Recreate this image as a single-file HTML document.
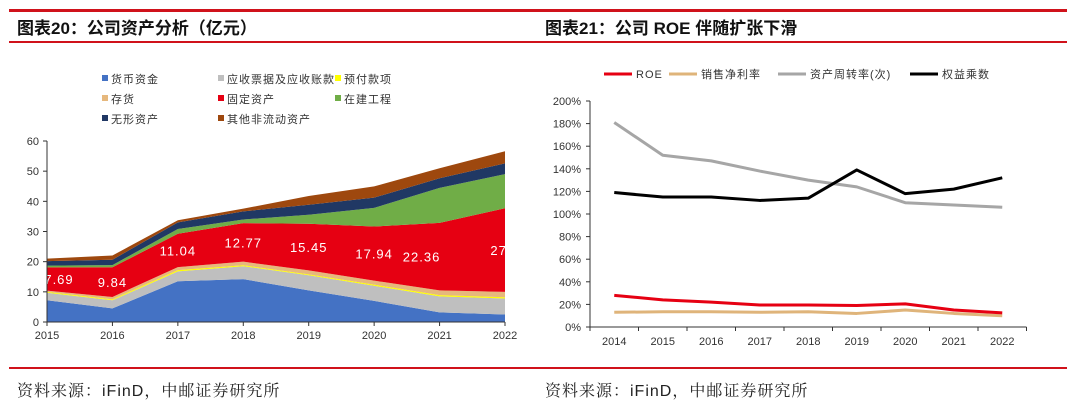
<!DOCTYPE html>
<html><head><meta charset="utf-8">
<style>
body{margin:0;width:1080px;height:419px;background:#fff;overflow:hidden;position:relative;font-family:"Liberation Sans","Noto Sans CJK SC",sans-serif;}
.rl{position:absolute;left:9px;width:1058px;background:#d0121b;}
.title{position:absolute;top:14px;font-size:17px;font-weight:bold;color:#111;font-family:"Liberation Sans","Noto Sans CJK SC",sans-serif;}
.src{position:absolute;top:378px;font-size:16px;color:#222;letter-spacing:1px;font-family:"Liberation Sans","Noto Serif CJK SC","Noto Sans CJK SC",sans-serif;}
svg{position:absolute;left:0;top:0;}
svg text{font-family:"Liberation Sans","Noto Sans CJK SC",sans-serif;}
</style></head><body>
<div class="rl" style="top:9px;height:3px"></div>
<div class="rl" style="top:41px;height:2px"></div>
<div class="rl" style="top:367px;height:2px"></div>
<div class="title" style="left:17px">图表20：公司资产分析（亿元）</div>
<div class="title" style="left:545px">图表21：公司 ROE 伴随扩张下滑</div>
<div class="src" style="left:17px">资料来源：iFinD，中邮证券研究所</div>
<div class="src" style="left:545px">资料来源：iFinD，中邮证券研究所</div>
<svg id="chart" width="1080" height="419"></svg>
<script>
// ---- Left chart data (亿元) ----
const years = ["2015","2016","2017","2018","2019","2020","2021","2022"];
const seriesNames = ["货币资金","应收票据及应收账款","预付款项","存货","固定资产","在建工程","无形资产","其他非流动资产"];
const cash = [7.2,4.5,13.5,14.2,10.5,7.0,3.2,2.5];
const receivables = [2.5,2.7,3.3,4.3,5.0,5.0,5.3,5.3];
const prepaid = [0.3,0.3,0.4,0.3,0.3,0.4,0.4,0.4];
const inventory = [0.4,0.8,1.0,1.2,1.3,1.3,1.6,1.8];
const fixedAssets = [7.69,9.84,11.04,12.77,15.45,17.94,22.36,27.7];
const construction = [0.6,0.7,1.6,1.2,3.0,6.2,11.6,11.3];
const intangible = [1.5,1.8,2.2,2.7,3.3,3.4,3.2,3.6];
const otherNonCurrent = [0.8,1.4,0.7,0.9,2.9,3.7,3.3,4.0];
const fixedLabels = ["7.69","9.84","11.04","12.77","15.45","17.94","22.36","27.7"];
const leftYTicks = [0,10,20,30,40,50,60];
// ---- Right chart data (%) ----
const years2 = ["2014","2015","2016","2017","2018","2019","2020","2021","2022"];
const roe = [28,24,22,19.5,19.5,19,20.5,15,12.5];
const netMargin = [13,13.5,13.5,13,13.5,12,15,12,10];
const assetTurnover = [181,152,147,138,130,124,110,108,106];
const equityMultiplier = [119,115,115,112,114,139,118,122,132];
const rightYTicks = [0,20,40,60,80,100,120,140,160,180,200];

const NS="http://www.w3.org/2000/svg";
const svg=document.getElementById('chart');
function mk(tag,attrs,parent){const e=document.createElementNS(NS,tag);for(const k in attrs)e.setAttribute(k,attrs[k]);(parent||svg).appendChild(e);return e;}

// ===== Left chart =====
const L={x0:47,x1:505,y0:322,y1:141,max:60};
const lx=i=>L.x0+i*(L.x1-L.x0)/(years.length-1);
const ly=v=>L.y0-v*(L.y0-L.y1)/L.max;
const stacks=[cash,receivables,prepaid,inventory,fixedAssets,construction,intangible,otherNonCurrent];
const colors=["#4472c4","#bfbfbf","#ffff00","#e6b87d","#e60012","#70ad47","#203864","#9e480e"];
const areaNames=["area-cash","area-receivables","area-prepaid","area-inventory","area-fixed-assets","area-construction","area-intangible","area-other-noncurrent"];
let base=years.map(()=>0);
const cum=[];
stacks.forEach((s,k)=>{
  const top=base.map((b,i)=>b+s[i]);
  let d="M"+years.map((_,i)=>lx(i)+","+ly(top[i])).join(" L");
  for(let i=years.length-1;i>=0;i--) d+=" L"+lx(i)+","+ly(base[i]);
  d+="Z";
  const p=mk('path',{d:d,fill:colors[k]});
  
  
  cum.push({lo:base.slice(),hi:top});
  base=top;
});
const defs=mk('defs',{});
const cp=mk('clipPath',{id:'lclip'},defs);
mk('rect',{x:L.x0,y:L.y1,width:L.x1-L.x0,height:L.y0-L.y1},cp);
const lg=mk('g',{'clip-path':'url(#lclip)'});
fixedLabels.forEach((t,i)=>{
  const mid=(cum[4].lo[i]+cum[4].hi[i])/2;
  const dx = i===0 ? 12 : (i===6 ? -18 : 0);
  const e=mk('text',{x:lx(i)+dx,y:ly(mid)+5,'text-anchor':'middle','font-size':13,fill:'#fff','letter-spacing':1},lg);
  e.textContent=t;
  
  
});
mk('line',{x1:L.x0,y1:L.y1,x2:L.x0,y2:L.y0,stroke:'#333','stroke-width':1});
mk('line',{x1:L.x0,y1:L.y0,x2:L.x1,y2:L.y0,stroke:'#333','stroke-width':1});
leftYTicks.forEach(v=>{
  mk('line',{x1:L.x0-4,y1:ly(v),x2:L.x0,y2:ly(v),stroke:'#333'});
  const t=mk('text',{x:L.x0-8,y:ly(v)+4,'text-anchor':'end','font-size':11,fill:'#333'});
  t.textContent=v;
  
  
});
years.forEach((y,i)=>{
  mk('line',{x1:lx(i),y1:L.y0,x2:lx(i),y2:L.y0+4,stroke:'#333'});
  const t=mk('text',{x:lx(i),y:L.y0+17,'text-anchor':'middle','font-size':11,fill:'#333'});
  t.textContent=y;
  
  
});
const legPos=[[102,79],[218,79],[335,79],[102,99],[218,99],[335,99],[102,119],[218,119]];
seriesNames.forEach((n,k)=>{
  const [x,y]=legPos[k];
  const g=mk('g',{});
  
  
  mk('rect',{x:x,y:y-4,width:6,height:6,fill:colors[k]},g);
  const t=mk('text',{x:x+9,y:y+4,'font-size':11,fill:'#333','letter-spacing':1},g);
  t.textContent=n;
});

// ===== Right chart =====
const R={x0:590,band:48.5,y0:327,y1:101,max:200};
const rx=i=>R.x0+R.band*(i+0.5);
const ry=v=>R.y0-v*(R.y0-R.y1)/R.max;
const rEnd=R.x0+R.band*years2.length;
mk('line',{x1:R.x0,y1:R.y1,x2:R.x0,y2:R.y0,stroke:'#333'});
mk('line',{x1:R.x0,y1:R.y0,x2:rEnd,y2:R.y0,stroke:'#333'});
rightYTicks.forEach(v=>{
  mk('line',{x1:R.x0-4,y1:ry(v),x2:R.x0,y2:ry(v),stroke:'#333'});
  const t=mk('text',{x:R.x0-9,y:ry(v)+4,'text-anchor':'end','font-size':11,fill:'#333'});
  t.textContent=v+'%';
  
  
});
for(let i=0;i<=years2.length;i++) mk('line',{x1:R.x0+R.band*i,y1:R.y0,x2:R.x0+R.band*i,y2:R.y0+4,stroke:'#333'});
years2.forEach((y,i)=>{
  const t=mk('text',{x:rx(i),y:R.y0+18,'text-anchor':'middle','font-size':11,fill:'#333'});
  t.textContent=y;
  
  
});
const lines=[[assetTurnover,'#a6a6a6','line-asset-turnover'],[netMargin,'#dfb47a','line-net-margin'],[roe,'#e60012','line-roe'],[equityMultiplier,'#000','line-equity-multiplier']];
lines.forEach(([arr,c,n])=>{
  const p=mk('polyline',{points:arr.map((v,i)=>rx(i)+','+ry(v)).join(' '),fill:'none',stroke:c,'stroke-width':3,'stroke-linejoin':'round'});
  
  
});
const rleg=[[604,'#e60012','ROE'],[669,'#dfb47a','销售净利率'],[778,'#a6a6a6','资产周转率(次)'],[910,'#000','权益乘数']];
rleg.forEach(([x,c,n])=>{
  const g=mk('g',{});
  
  
  mk('line',{x1:x,y1:74,x2:x+28,y2:74,stroke:c,'stroke-width':3},g);
  const t=mk('text',{x:x+32,y:78,'font-size':11,fill:'#333','letter-spacing':1},g);
  t.textContent=n;
});
</script>
</body></html>
